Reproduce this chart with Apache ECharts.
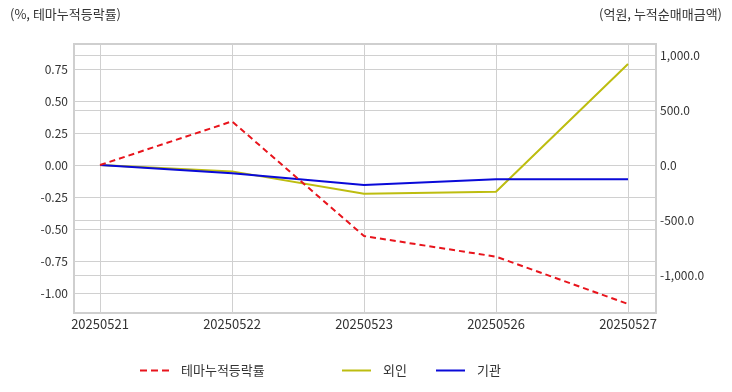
<!DOCTYPE html>
<html><head><meta charset="utf-8">
<script src="https://cdn.jsdelivr.net/npm/echarts@6/dist/echarts.min.js"></script>
<style>html,body{margin:0;padding:0;background:#fff}#c{width:732px;height:392px}</style>
</head><body><div id="c"></div>
<script>
var dates = ['20250521','20250522','20250523','20250526','20250527'];
var themeRate = [0.0, 0.341, -0.555, -0.716, -1.086];
var foreign = [0, -58, -261, -243, 918];
var institution = [0, -76, -182, -130, -130];
var leftTicks = [-1.0, -0.75, -0.5, -0.25, 0, 0.25, 0.5, 0.75];
var rightTicks = [-1000, -500, 0, 500, 1000];
var xTicks = [0,1,2,3,4];

var font = '"Noto Sans CJK KR", "Noto Sans", sans-serif';
function pairs(arr){ return arr.map(function(v,i){ return [i, v]; }); }
function fmtRight(v){ return v.toLocaleString('en-US',{minimumFractionDigits:1,maximumFractionDigits:1}); }

var dashIcon = 'path://M0,0h7v2h-7z M11,0h7v2h-7z M22,0h7v2h-7z';
var solidIcon = 'path://M0,0h29v2h-29z';

var chart = echarts.init(document.getElementById('c'), null, {renderer:'canvas'});
var legendText = {fontFamily: font, fontSize: 13, color: '#333', padding: [0, 0, 0, 7]};
function leg(name, icon, left){
  return {data: [{name: name, icon: icon}], left: left, top: 364, padding: 0, itemWidth: 29, itemHeight: 2, textStyle: legendText};
}
chart.setOption({
  animation: false,
  textStyle: {fontFamily: font},
  grid: {left: 74, right: 76, top: 44, bottom: 79, show: true, borderColor: '#cfcfcf', borderWidth: 2, backgroundColor: 'transparent'},
  graphic: [
    {type: 'text', left: 10, top: 8, style: {text: '(%, 테마누적등락률)', font: '13px ' + font, fill: '#333'}},
    {type: 'text', right: 10, top: 8, style: {text: '(억원, 누적순매매금액)', font: '13px ' + font, fill: '#333'}}
  ],
  legend: [
    leg('테마누적등락률', dashIcon, 140),
    leg('외인', solidIcon, 342),
    leg('기관', solidIcon, 436)
  ],
  xAxis: {
    type: 'value', min: -26/132, max: 4 + 28/132,
    axisLine: {show: false}, axisTick: {show: false, customValues: xTicks},
    axisLabel: {customValues: xTicks, formatter: function(v){ return dates[Math.round(v)]; }, color: '#333', fontSize: 13, margin: 5, fontFamily: font},
    splitLine: {show: true, lineStyle: {color: '#d0d0d0', width: 1}}
  },
  yAxis: [
    {type: 'value', position: 'left', min: -148/128, max: 121/128,
     axisLine: {show: false}, axisTick: {show: false, customValues: leftTicks},
     axisLabel: {customValues: leftTicks, formatter: function(v){ return v.toFixed(2); }, color: '#333', fontSize: 12, margin: 6, fontFamily: font},
     splitLine: {show: true, lineStyle: {color: '#d0d0d0', width: 1}}},
    {type: 'value', position: 'right', min: -148/55*500, max: 121/55*500,
     axisLine: {show: false}, axisTick: {show: false, customValues: rightTicks},
     axisLabel: {customValues: rightTicks, formatter: fmtRight, color: '#333', fontSize: 12, margin: 4, fontFamily: font},
     splitLine: {show: true, lineStyle: {color: '#d0d0d0', width: 1}}}
  ],
  series: [
    {name: '테마누적등락률', type: 'line', yAxisIndex: 0, data: pairs(themeRate), symbol: 'none',
     lineStyle: {color: '#e8141c', width: 2, type: [6, 4]}, itemStyle: {color: '#e8141c'}, z: 4},
    {name: '외인', type: 'line', yAxisIndex: 1, data: pairs(foreign), symbol: 'none',
     lineStyle: {color: '#bdbd10', width: 2}, itemStyle: {color: '#bdbd10'}, z: 3},
    {name: '기관', type: 'line', yAxisIndex: 1, data: pairs(institution), symbol: 'none',
     lineStyle: {color: '#0a0ad8', width: 2}, itemStyle: {color: '#0a0ad8'}, z: 3}
  ]
});
</script></body></html>
